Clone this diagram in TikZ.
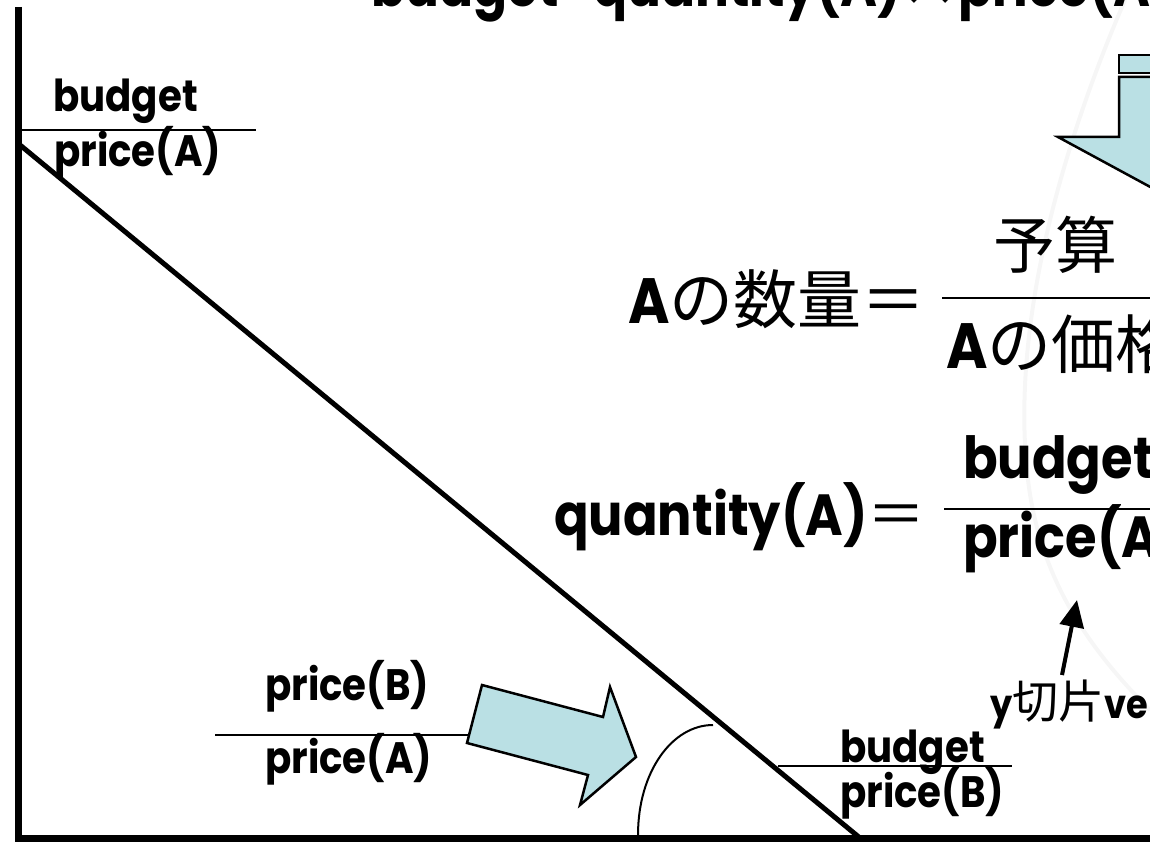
\documentclass[tikz,border=0pt]{standalone}
\usepackage{fontspec}
\setmainfont{Poppins}[FakeStretch=0.88]
\newfontfamily\jpfont{Noto Sans CJK JP}
\usetikzlibrary{arrows.meta}
\definecolor{arrowcyan}{RGB}{186,224,228}
\newcommand{\setsz}[1]{\fontsize{#1}{#1}\selectfont}
\newcommand{\jp}[1]{{\jpfont\mdseries #1}}
\tikzset{
  txt/.style={inner sep=0pt,anchor=base west,font=\bfseries\setsz{44}},
  eqtxt/.style={inner sep=0pt,anchor=base west,font=\bfseries\setsz{58}},
  axisline/.style={line width=7pt},
  budgetline/.style={line width=5pt},
  fracbar/.style={line width=2pt},
  blockarrow/.style={draw,line width=2.5pt,fill=arrowcyan,line join=miter},
  pointer/.style={-{Triangle[length=27pt,width=24pt]},line width=4pt}
}
\begin{document}
\begin{tikzpicture}[x=1pt,y=-1pt]
\useasboundingbox (0,0) rectangle (1150,842);
\clip (0,0) rectangle (1150,842);
% faint background trace
\draw[gray!7,line width=4pt] (1125,0) .. controls (1060,150) and (1010,330) .. (1028,480)
  .. controls (1040,580) and (1090,650) .. (1150,710);
% title (cut at the top)
\node[txt,font=\bfseries\setsz{57}] (title) at (371,7) {budget=quantity(A)\jp{×}price(A)+quantity(B)\jp{×}price(B)};
% axes and budget line
\coordinate (yint) at (20,145);
\coordinate (xint) at (860,838);
\draw[axisline] (18,7) -- (18,838.5) -- (1160,838.5);
\draw[budgetline] (yint) -- (xint);
% intercept on the vertical axis
\node[txt] (tlnum) at (53,112) {budget};
\node[txt] (tlden) at (54,167) {price(A)};
\draw[fracbar] (20,130) coordinate (tlbarL) -- (256,130) coordinate (tlbarR);
% slope
\node[txt] (slnum) at (265,700) {price(B)};
\node[txt] (slden) at (265,773) {price(A)};
\draw[fracbar] (215,735) coordinate (slbarL) -- (470,735) coordinate (slbarR);
\draw[blockarrow] (482,685) -- (603,717) -- (610,687) -- (636,757) -- (580,805) -- (588,775) -- (467,743) -- cycle;
\draw[line width=2pt] (638,835) .. controls (638,772) and (672,725) .. (713,725);
% intercept on the horizontal axis
\node[txt] (rnum) at (840,762) {budget};
\node[txt] (rden) at (840,807) {price(B)};
\draw[fracbar] (778,766) coordinate (rbarL) -- (1012,766) coordinate (rbarR);
% down arrow (striped)
\draw[blockarrow] (1119,55) rectangle (1300,73);
\draw[blockarrow] (1119,77) -- (1119,137) -- (1058,137) -- (1250,241) -- (1300,137) -- (1300,77) -- cycle;
% equations
\node[inner sep=0pt,anchor=base west,font=\setsz{64}] (jlhs) at (628,323) {\textbf{A}\jp{の数量＝}};
\node[inner sep=0pt,anchor=base,font=\setsz{62}] (jnum) at (1055,268) {\jp{予算}};
\node[inner sep=0pt,anchor=base west,font=\setsz{64}] (jden) at (946,368) {\textbf{A}\jp{の価格}};
\draw[fracbar] (942,298) coordinate (jbarL) -- (1175,298) coordinate (jbarR);
\node[eqtxt] (qlhs) at (554,535) {quantity(A)\jp{＝}};
\node[eqtxt] (qnum) at (963,478) {budget};
\node[eqtxt] (qden) at (963,557) {price(A)};
\draw[fracbar] (944,509) coordinate (qbarL) -- (1175,509) coordinate (qbarR);
% y-intercept pointer
\node[txt,font=\bfseries\setsz{40}] (ylab) at (990,718) {y{\setsz{46}\jp{切片}}vertical};
\coordinate (ytail) at (1062,675);
\coordinate (ytip) at (1077,600);
\draw[pointer] (ytail) -- (ytip);
\end{tikzpicture}
\end{document}
